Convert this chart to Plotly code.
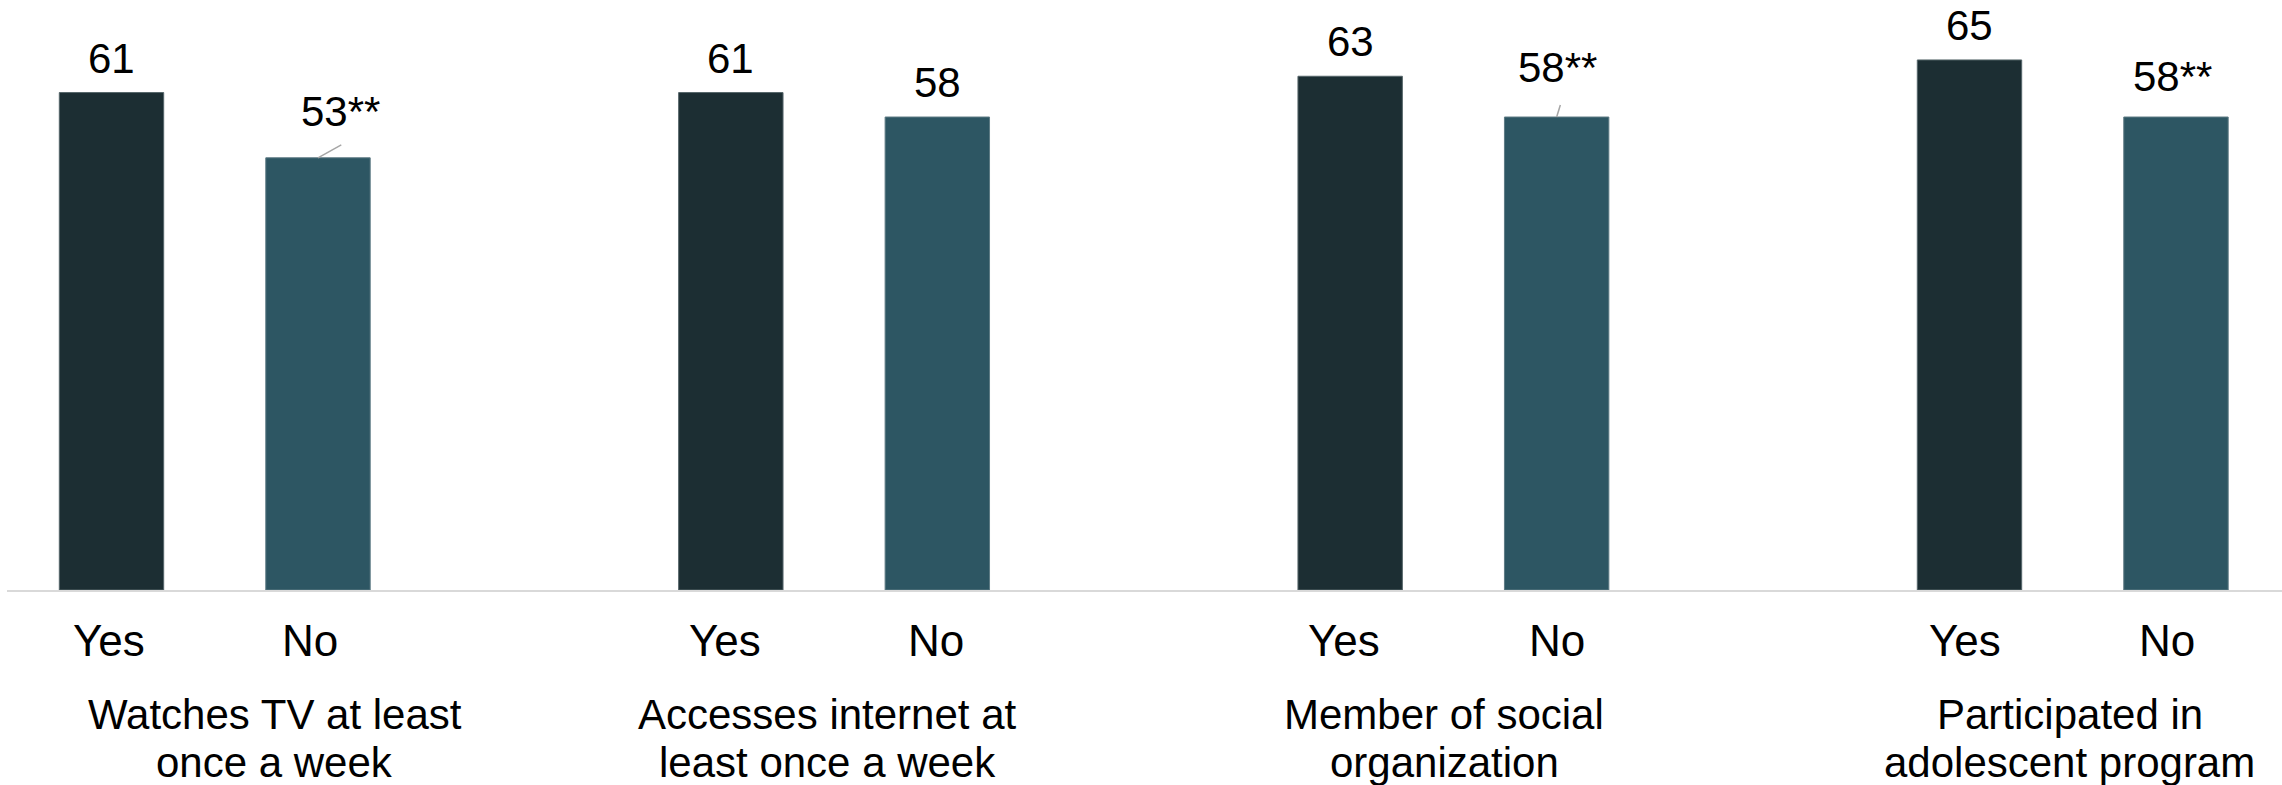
import plotly.graph_objects as go

# Survey indicators (percent) for respondents answering Yes / No
groups = [
    "Watches TV at least<br>once a week",
    "Accesses internet at<br>least once a week",
    "Member of social<br>organization",
    "Participated in<br>adolescent program",
]
answer_names = ["Yes", "No"]
yes_values = [61, 61, 63, 65]
no_values = [53, 58, 58, 58]
yes_labels = ["61", "61", "63", "65"]
no_labels = ["53**", "58", "58**", "58**"]

# Styling
FONT = "Liberation Sans, Arial, sans-serif"
YES_COLOR = "#1c2e33"
NO_COLOR = "#2d5663"
BAR_GAP = 0.3332
BAR_GROUP_GAP = 0.4944
PLOT_H = 590  # plot area height in px (top margin 0)
Y_MAX = 72.35

# label offsets (px) above bar tops, and leader lines for shifted labels
yes_dy = [34.5, 34.5, 34.5, 34.5]
no_dy = [46.5, 34.5, 50, 41]
no_dx = [23, 0, 1, -3]
no_leaders = {0: (23.3, 13), 2: (3.7, 12)}
# horizontal nudges (px) for the answer and caption texts below the axis
answer_dx = [(-3, -8), (-6, -1), (-6, 0), (-4, -9)]
caption_dx = [60, -7, -9, -3]

xs = list(range(len(groups)))
half = (1 - BAR_GAP) / 4  # distance from group centre to each bar centre

fig = go.Figure()
fig.add_trace(go.Bar(
    x=xs, y=yes_values, name=answer_names[0],
    marker=dict(color=YES_COLOR, line=dict(color="#56666a", width=1)),
))
fig.add_trace(go.Bar(
    x=xs, y=no_values, name=answer_names[1],
    marker=dict(color=NO_COLOR, line=dict(color="#5d7a84", width=1)),
))

annotations = []
shapes = []
for i in xs:
    # value labels
    annotations.append(dict(
        x=i - half, y=yes_values[i], xref="x", yref="y", text=yes_labels[i],
        showarrow=False, yanchor="middle", yshift=yes_dy[i],
        font=dict(family=FONT, size=42, color="#000000"),
    ))
    annotations.append(dict(
        x=i + half, y=no_values[i], xref="x", yref="y", text=no_labels[i],
        showarrow=False, yanchor="middle", yshift=no_dy[i], xshift=no_dx[i],
        font=dict(family=FONT, size=42, color="#000000"),
    ))
    if i in no_leaders:
        dx, dy = no_leaders[i]
        shapes.append(dict(
            type="line", xref="x", yref="y",
            xsizemode="pixel", xanchor=i + half, x0=0, x1=dx,
            ysizemode="pixel", yanchor=no_values[i], y0=0, y1=dy,
            line=dict(color="#a6a6a6", width=1.5),
        ))
    # Yes / No labels under each bar
    for k, (sign, name) in enumerate(zip((-1, 1), answer_names)):
        annotations.append(dict(
            x=i + sign * half, y=0, xref="x", yref="paper", text=name,
            showarrow=False, yanchor="middle", yshift=-50,
            xshift=answer_dx[i][k],
            font=dict(family=FONT, size=44, color="#000000"),
        ))
    # group caption, two lines
    for k, line in enumerate(groups[i].split("<br>")):
        annotations.append(dict(
            x=i, y=0, xref="x", yref="paper", text=line,
            showarrow=False, yanchor="middle", yshift=-(124 + 48 * k),
            xshift=caption_dx[i],
            font=dict(family=FONT, size=42, color="#000000"),
        ))

fig.update_layout(
    width=2282, height=785,
    margin=dict(l=7, r=0, t=0, b=785 - PLOT_H),
    barmode="group", bargap=BAR_GAP, bargroupgap=BAR_GROUP_GAP,
    plot_bgcolor="#ffffff", paper_bgcolor="#ffffff",
    showlegend=False,
    annotations=annotations, shapes=shapes,
    font=dict(family=FONT),
)
fig.update_xaxes(
    range=[-0.33544, 3.33789], showticklabels=False, ticks="",
    showgrid=False, zeroline=False,
    showline=True, linecolor="#d9d9d9", linewidth=2,
)
fig.update_yaxes(
    range=[0, Y_MAX], visible=False, showgrid=False, zeroline=False,
)

fig.write_html("out.html")
